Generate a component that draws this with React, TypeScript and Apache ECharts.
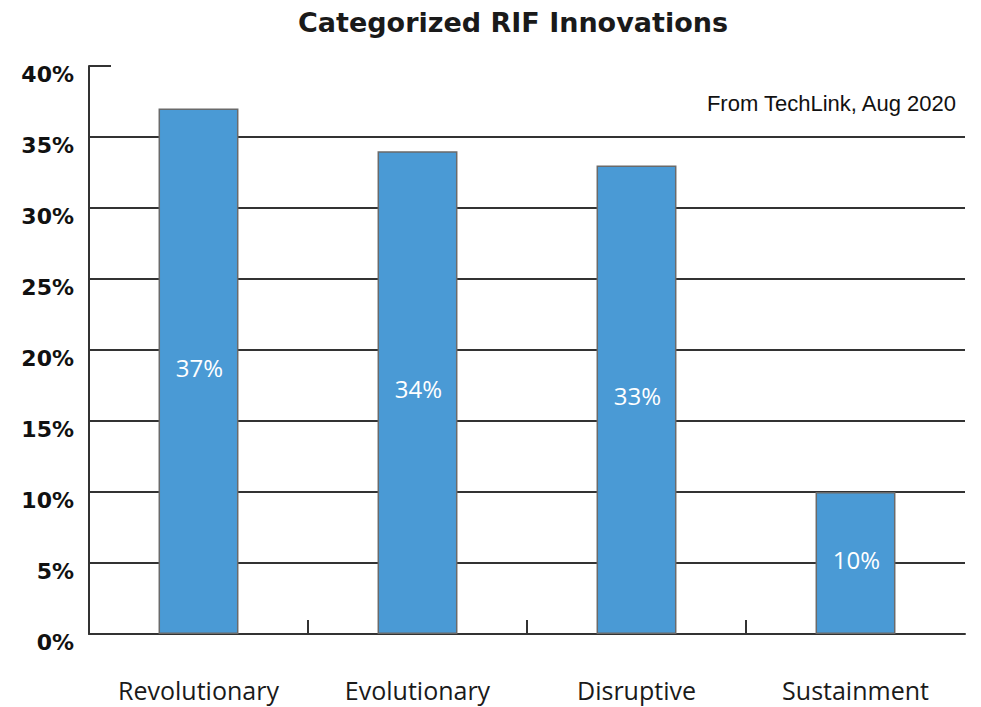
import React, { useEffect, useRef } from "react";
import * as echarts from "echarts";

const categories = ["Revolutionary", "Evolutionary", "Disruptive", "Sustainment"];
const shares = [37, 34, 33, 10];
const titleText = "Categorized RIF Innovations";
const sourceText = "From TechLink, Aug 2020";
const boundaryTicks = [1, 2, 3];

export default function App() {
  const ref = useRef<HTMLDivElement>(null);
  useEffect(() => {
    document.body.style.margin = "0";
    const chart = echarts.init(ref.current!, null, { renderer: "svg" });
    const lineColor = "#333333";
    chart.setOption({
      animation: false,
      backgroundColor: "#ffffff",
      grid: { left: 89, right: 16, top: 66, bottom: 73 },
      graphic: [
        {
          type: "text",
          x: 513,
          y: 22,
          style: {
            text: titleText,
            fontFamily: "DejaVu Sans",
            fontWeight: "bold",
            fontSize: 27,
            fill: "#1a1a1a",
            textAlign: "center",
            textVerticalAlign: "middle",
          },
        },
        {
          type: "text",
          x: 956,
          y: 103,
          style: {
            text: sourceText,
            fontFamily: "Liberation Sans",
            fontSize: 22,
            fill: "#111111",
            textAlign: "right",
            textVerticalAlign: "middle",
          },
        },
      ],
      xAxis: [
        {
          type: "category",
          data: categories,
          boundaryGap: true,
          axisLine: { show: true, lineStyle: { color: lineColor, width: 2 } },
          axisTick: { show: false },
          axisLabel: {
            margin: 43,
            color: "#1a1a1a",
            fontFamily: "Open Sans",
            fontSize: 25,
          },
          splitLine: { show: false },
        },
        {
          type: "value",
          min: 0,
          max: 4,
          interval: 1,
          position: "bottom",
          axisLine: { show: false },
          axisLabel: { show: false },
          splitLine: { show: false },
          axisTick: {
            show: true,
            inside: true,
            length: 14,
            customValues: boundaryTicks,
            lineStyle: { color: lineColor, width: 2 },
          },
        },
      ],
      yAxis: {
        type: "value",
        min: 0,
        max: 40,
        interval: 5,
        axisLine: { show: true, lineStyle: { color: lineColor, width: 2 } },
        axisTick: { show: true, inside: true, length: 22, lineStyle: { color: lineColor, width: 2 } },
        splitLine: {
          show: true,
          showMaxLine: false,
          lineStyle: { color: lineColor, width: 2 },
        },
        axisLabel: {
          formatter: "{value}%",
          margin: 15,
          color: "#111111",
          fontFamily: "DejaVu Sans",
          fontWeight: "bold",
          fontSize: 22,
          verticalAlign: "top",
          lineHeight: 16,
        },
      },
      series: [
        {
          type: "bar",
          xAxisIndex: 0,
          data: shares,
          barWidth: "36.5%",
          itemStyle: { color: "#4a9ad5", borderColor: "#6a6a6a", borderWidth: 1.5 },
          label: {
            show: true,
            position: "inside",
            offset: [1, -4],
            formatter: "{c}%",
            color: "#ffffff",
            fontFamily: "Open Sans",
            fontSize: 24,
          },
        },
      ],
    });
    return () => chart.dispose();
  }, []);
  return <div ref={ref} style={{ width: 981, height: 707, position: "absolute", left: 0, top: 0 }} />;
}
